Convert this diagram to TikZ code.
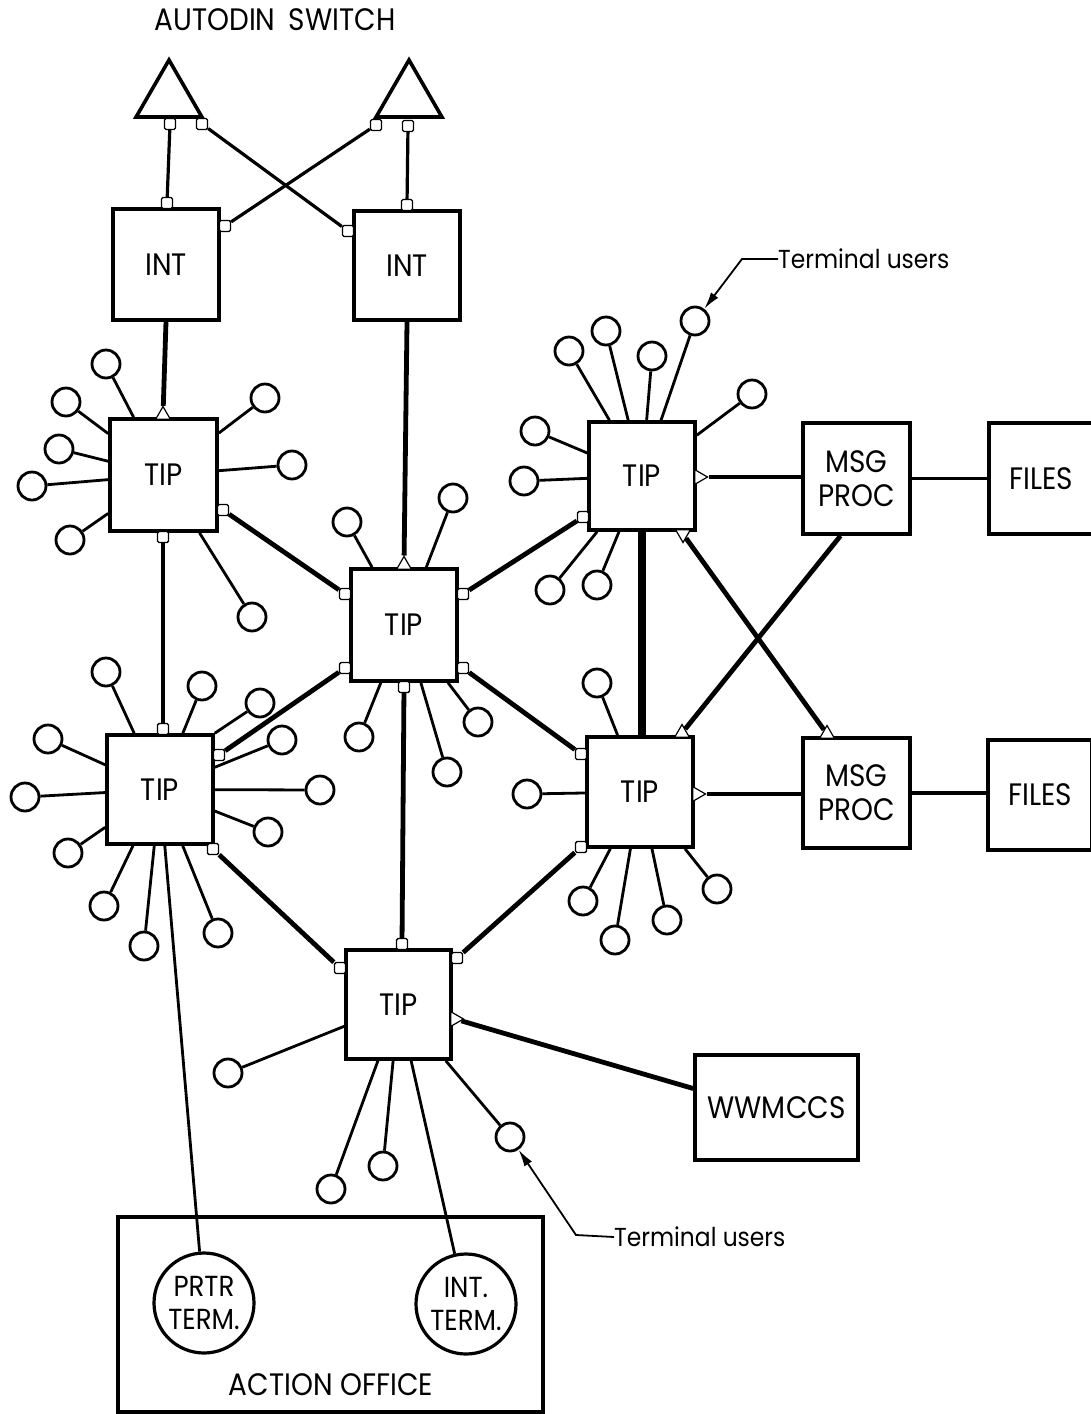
\documentclass[tikz,border=0pt]{standalone}
\usepackage{fontspec}
\setmainfont{Poppins}[FakeStretch=0.9]
\usetikzlibrary{shapes.geometric,arrows.meta,calc}
\begin{document}
\begin{tikzpicture}[x=1pt,y=-1pt,
  box/.style={draw,line width=3.6pt,inner sep=0pt,align=center,font=\fontsize{31}{34}\selectfont},
  lbl/.style={inner sep=0pt,font=\fontsize{31}{34}\selectfont},
  note/.style={inner sep=0pt,font=\fontsize{26}{30}\selectfont},
  term/.style={draw,circle,line width=3.2pt,minimum size=100pt,inner sep=0pt,align=center,font=\fontsize{29}{33}\selectfont},
  user/.style={draw,circle,line width=2.8pt,minimum size=28pt,inner sep=0pt},
  switch/.style={draw,line width=3.6pt,regular polygon,regular polygon sides=3,minimum size=76pt,inner sep=0pt},
  port/.style={draw,fill=white,line width=1.4pt,minimum size=11pt,inner sep=0pt,rounded corners=1.5pt},
  tport/.style={draw,fill=white,line width=1.2pt,regular polygon,regular polygon sides=3,minimum size=17pt,inner sep=0pt},
  trunk/.style={line width=4.8pt},
  link/.style={line width=3.2pt},
  uline/.style={line width=2.8pt},
  heavy/.style={line width=8pt},
  pointer/.style={line width=1.8pt,-{Latex[length=17pt,width=9pt]}}
]
\useasboundingbox (0,0) rectangle (1091,1414);
\clip (0,0) rectangle (1091,1414);
\fill[white] (0,0) rectangle (1091,1414);

% title
\node[lbl] (autodin) at (275,20) {AUTODIN\hspace{6pt} SWITCH};

% switches
\node[switch] (sw1) at (169,98) {};
\node[switch] (sw2) at (409,98) {};

% boxes
\node[box,minimum width=106pt,minimum height=111pt] (int1) at (166,264.5) {INT};
\node[box,minimum width=106pt,minimum height=109pt] (int2) at (407,265.5) {INT};
\node[box,minimum width=107pt,minimum height=112pt] (tip1) at (163.5,475) {TIP};
\node[box,minimum width=106pt,minimum height=112pt] (tipc) at (404,625) {TIP};
\node[box,minimum width=106pt,minimum height=108pt] (tip3) at (642,476) {TIP};
\node[box,minimum width=106pt,minimum height=109pt] (tip2) at (160,789.5) {TIP};
\node[box,minimum width=106pt,minimum height=110pt] (tip4) at (640,792) {TIP};
\node[box,minimum width=105pt,minimum height=109pt] (tip5) at (398.5,1004.5) {TIP};
\node[box,minimum width=107pt,minimum height=111pt] (msg1) at (856.5,478.5) {MSG\\PROC};
\node[box,minimum width=107pt,minimum height=110pt] (msg2) at (856.5,793) {MSG\\PROC};
\node[box,minimum width=104pt,minimum height=111pt] (files1) at (1041,478.5) {FILES};
\node[box,minimum width=104pt,minimum height=110pt] (files2) at (1040,795) {FILES};
\node[box,minimum width=163pt,minimum height=105pt] (wwm) at (776.5,1107.5) {WWMCCS};
\node[box,minimum width=425pt,minimum height=195pt] (office) at (330.5,1314.5) {};
\node[lbl] (officelbl) at (331,1385) {ACTION OFFICE};
\node[term] (prtr) at (204,1303) {PRTR\\TERM.};
\node[term] (intterm) at (466,1304) {INT.\\TERM.};

% ports
\node[port] (s1a) at (170,124) {};
\node[port] (s1b) at (202,124) {};
\node[port] (s2a) at (376,125) {};
\node[port] (s2b) at (408,126) {};
\node[port] (i1t) at (167,203) {};
\node[port] (i1r) at (225,226) {};
\node[port] (i2t) at (407,205) {};
\node[port] (i2l) at (348,231) {};
\node[tport] (t1t) at (163,415) {};
\node[port] (t1b) at (163,537) {};
\node[port] (t1r) at (223,510) {};
\node[tport] (tct) at (404,565) {};
\node[port] (tclt) at (345,594) {};
\node[port] (tclb) at (345,668) {};
\node[port] (tcrt) at (463,594) {};
\node[port] (tcrb) at (463,668) {};
\node[port] (tcb) at (404,687) {};
\node[port] (t3l) at (583,517) {};
\node[tport,shape border rotate=-90] (t3r) at (699,477) {};
\node[tport,shape border rotate=180] (t3b) at (683,534) {};
\node[port] (t2t) at (163,729) {};
\node[port] (t2r) at (219,755) {};
\node[port] (t2b) at (213,849) {};
\node[tport] (t4t) at (682,733) {};
\node[port] (t4l) at (581,754) {};
\node[tport,shape border rotate=-90] (t4r) at (697,794) {};
\node[port] (t4b) at (581,847) {};
\node[tport] (m2t) at (827,734) {};
\node[port] (t5t) at (402,944) {};
\node[port] (t5l) at (340,968) {};
\node[port] (t5r) at (457,958) {};
\node[tport,shape border rotate=-90] (t5w) at (455,1019) {};

% trunks
\draw[link] (s1a) -- (i1t);
\draw[link] (s1b) -- (i2l);
\draw[link] (s2a) -- (i1r);
\draw[link] (s2b) -- (i2t);
\draw[trunk] (int1.south) -- (t1t);
\draw[trunk] (int2.south) -- (tct);
\draw[trunk] (t1b) -- (t2t);
\draw[trunk] (t1r) -- (tclt);
\draw[trunk] (tcrt) -- (t3l);
\draw[trunk] (tclb) -- (t2r);
\draw[trunk] (tcrb) -- (t4l);
\draw[trunk] (tcb) -- (t5t);
\draw[trunk] (t2b) -- (t5l);
\draw[trunk] (t4b) -- (t5r);
\draw[trunk] (t3r) -- (t3r -| msg1.west);
\draw[heavy] (tip3.south) -- (tip3.south |- tip4.north);
\draw[trunk] (t3b) -- (m2t);
\draw[trunk] ([xshift=-16pt]msg1.south) -- (t4t);
\draw[trunk] (t4r) -- (t4r -| msg2.west);
\draw[link] (msg1) -- (msg1 -| files1.west);
\draw[link] (msg2.east) -- (msg2.east -| files2.west);
\draw[trunk] (t5w) -- ([yshift=19pt]wwm.west);

% terminal users
\foreach \n/\x/\y in {
  u1a/106/364, u1b/66/402, u1c/59/449, u1d/32/486, u1e/70/540, u1f/265/398, u1g/292/465, u1h/252/617,
  uca/347/522, ucb/453/498, ucc/359/737, ucd/447/772, uce/478/722,
  u3a/569/351, u3b/606/331, u3c/652/356, u3d/695/321, u3e/752/394, u3f/535/431, u3g/524/481, u3h/550/590, u3i/597/585,
  u2a/106/672, u2b/202/686, u2c/260/703, u2d/282/740, u2e/320/790, u2f/268/832, u2g/48/739, u2h/25/797, u2i/68/853, u2j/104/906, u2k/144/946, u2l/218/933,
  u4a/597/683, u4b/527/794, u4c/583/901, u4d/615/940, u4e/667/920, u4f/717/889,
  u5a/228/1073, u5b/331/1189, u5c/383/1166, u5d/510/1137}
  \node[user] (\n) at (\x,\y) {};

\foreach \u/\t in {
  u1a/tip1, u1b/tip1, u1c/tip1, u1d/tip1, u1e/tip1, u1f/tip1, u1g/tip1, u1h/tip1,
  uca/tipc, ucb/tipc, ucc/tipc, ucd/tipc, uce/tipc,
  u3a/tip3, u3b/tip3, u3c/tip3, u3d/tip3, u3e/tip3, u3f/tip3, u3g/tip3, u3h/tip3, u3i/tip3,
  u2a/tip2, u2b/tip2, u2c/tip2.north east, u2d/tip2, u2e/tip2, u2f/tip2, u2g/tip2, u2h/tip2, u2i/tip2, u2j/tip2, u2k/tip2, u2l/tip2,
  u4a/tip4, u4b/tip4, u4c/tip4, u4d/tip4, u4e/tip4, u4f/tip4,
  u5a/tip5, u5b/tip5, u5c/tip5, u5d/tip5, prtr/tip2, intterm/tip5}
  \draw[uline] (\u) -- (\t);

% labels with pointers
\node[note,anchor=west] (tu1) at (778,259) {Terminal users};
\coordinate (tu1k) at (742,259);
\draw[pointer] (tu1.west) -- (tu1k) -- (u3d);
\node[note,anchor=west] (tu2) at (614,1237) {Terminal users};
\coordinate (tu2k) at (576,1235);
\draw[pointer] (tu2.west) -- (tu2k) -- (u5d);
\end{tikzpicture}
\end{document}
